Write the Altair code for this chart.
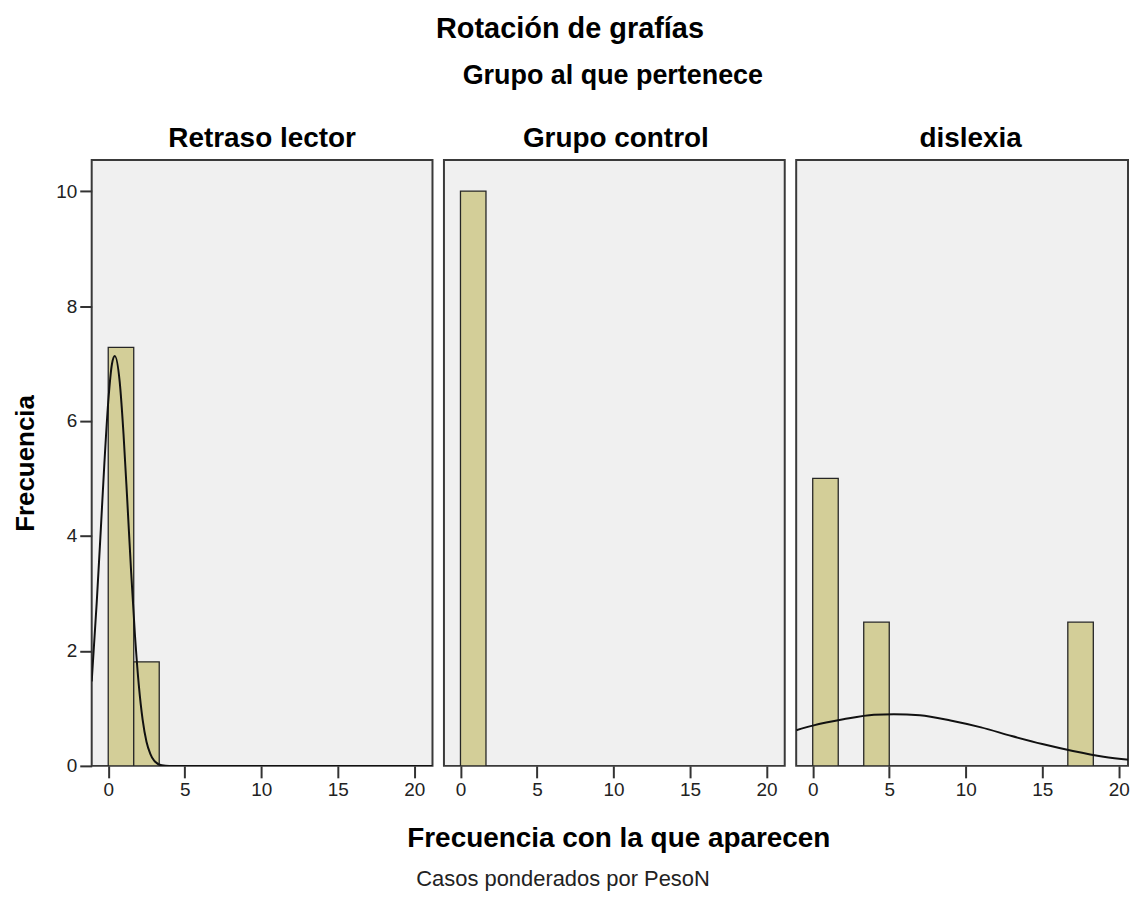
import altair as alt
import pandas as pd

# ---------------- data ----------------
groups = ["Retraso lector", "Grupo control", "dislexia"]

bar_group = ["Retraso lector", "Retraso lector", "Grupo control",
             "dislexia", "dislexia", "dislexia"]
bar_start = [0.0, 1.667, 0.0, 0.0, 3.333, 16.667]
bar_end = [1.667, 3.333, 1.667, 1.667, 5.0, 18.333]
bar_freq = [7.28, 1.81, 10.0, 5.0, 2.5, 2.5]

# normal curves
curve_rl_x = [-1.08, -0.75, -0.5, -0.25, 0.0, 0.25, 0.43, 0.75, 1.0, 1.25,
              1.5, 1.75, 2.0, 2.25, 2.5, 2.75, 3.0, 3.5, 4.0, 21.19]
curve_rl_y = [1.47, 2.85, 4.04, 5.27, 6.33, 7.0, 7.13, 6.68, 5.77, 4.59,
              3.36, 2.26, 1.40, 0.80, 0.42, 0.21, 0.09, 0.01, 0.0, 0.0]
curve_dx_x = [-1.08, 0.0, 2.0, 4.0, 5.3, 7.0, 9.0, 11.0, 13.0, 15.0, 17.0, 19.0, 21.19]
curve_dx_y = [0.62, 0.70, 0.81, 0.89, 0.90, 0.88, 0.79, 0.67, 0.52, 0.38, 0.26, 0.16, 0.09]

x_ticks = [0, 5, 10, 15, 20]
y_ticks = [0, 2, 4, 6, 8, 10]
x_min, x_max = -1.08, 21.19
x_max_cut = 20.6           # last panel is cut at the picture's right edge
y_domain = [0, 10.54]

title_text = "Rotación de grafías"
facet_title = "Grupo al que pertenece"
y_title = "Frecuencia"
x_title = "Frecuencia con la que aparecen"
footnote = "Casos ponderados por PesoN"

# ---------------- build table ----------------
rows = []
for g, s, e, f in zip(bar_group, bar_start, bar_end, bar_freq):
    rows.append({"grupo": g, "kind": "bar", "x0": s, "x1": e, "freq": f})
for x, y in zip(curve_rl_x, curve_rl_y):
    rows.append({"grupo": "Retraso lector", "kind": "curve", "x0": x, "x1": None, "freq": y})
for x, y in zip(curve_dx_x, curve_dx_y):
    rows.append({"grupo": "dislexia", "kind": "curve", "x0": x, "x1": None, "freq": y})
df = pd.DataFrame(rows)

FONT = "Liberation Sans"
PANEL_W = 342
PANEL_H = 608
NOBG = alt.ViewBackground(fill="transparent", stroke="transparent")


def make_panel(group, xmax, width, show_y):
    sub = df[df["grupo"] == group]
    xenc = alt.X("x0:Q", scale=alt.Scale(domain=[x_min, xmax], nice=False, zero=False),
                 axis=alt.Axis(values=x_ticks, title=None, format="d"))
    if show_y:
        yaxis = alt.Axis(values=y_ticks, title=y_title, format="d",
                         titleFont=FONT, titleFontSize=26, titleFontWeight="bold",
                         titleColor="#000", titlePadding=17)
    else:
        yaxis = None
    yenc = alt.Y("freq:Q", scale=alt.Scale(domain=y_domain, nice=False, zero=False),
                 axis=yaxis)
    bars = alt.Chart().transform_filter(alt.datum.kind == "bar").mark_bar(
        fill="#d3ce98", stroke="#262626", strokeWidth=1.3, clip=True
    ).encode(x=xenc, x2="x1:Q", y=yenc, y2=alt.datum(0))
    curve = alt.Chart().transform_filter(alt.datum.kind == "curve").mark_line(
        color="#111", strokeWidth=2, interpolate="monotone", clip=True
    ).encode(x=xenc, y=yenc)
    return alt.layer(bars, curve, data=sub).properties(width=width, height=PANEL_H)


p1 = make_panel(groups[0], x_max, PANEL_W, True)
p2 = make_panel(groups[1], x_max, PANEL_W, False)
p3 = make_panel(groups[2], x_max_cut, 333, False)
panels = alt.hconcat(p1, p2, p3, spacing=9.5)


def text_layer(txt, size, weight, x, y, color="#000"):
    return alt.Chart(pd.DataFrame({"t": [txt]})).mark_text(
        font=FONT, fontSize=size, fontWeight=weight, color=color,
        align="center", baseline="top"
    ).encode(text="t:N", x=alt.value(x), y=alt.value(y))


# x positions are relative to the left edge of the first plot
header = alt.layer(
    text_layer(title_text, 29, "bold", 480, 5),
    text_layer(facet_title, 27, "bold", 523, 53),
    text_layer(groups[0], 28, "bold", 171, 115),
    text_layer(groups[1], 28, "bold", 526, 115),
    text_layer(groups[2], 28, "bold", 882, 115),
).properties(width=1030, height=148, view=NOBG)

footer = alt.layer(
    text_layer(x_title, 28, "bold", 529, 23),
    text_layer(footnote, 22, "normal", 473, 68, "#222"),
).properties(width=1030, height=90, view=NOBG)

chart = alt.vconcat(header, panels, footer, spacing=0).properties(
    padding={"left": 3, "top": 0, "right": 0, "bottom": 0},
    background="white",
).configure_view(
    fill="#f0f0f0", stroke="#3a3a3a", strokeWidth=2
).configure_axis(
    labelFont=FONT, labelFontSize=19, labelColor="#222", labelPadding=3,
    tickColor="#333", tickSize=12, tickWidth=2, domain=False, grid=False,
)

chart.save("out.html", embed_options={"renderer": "svg", "actions": False})
